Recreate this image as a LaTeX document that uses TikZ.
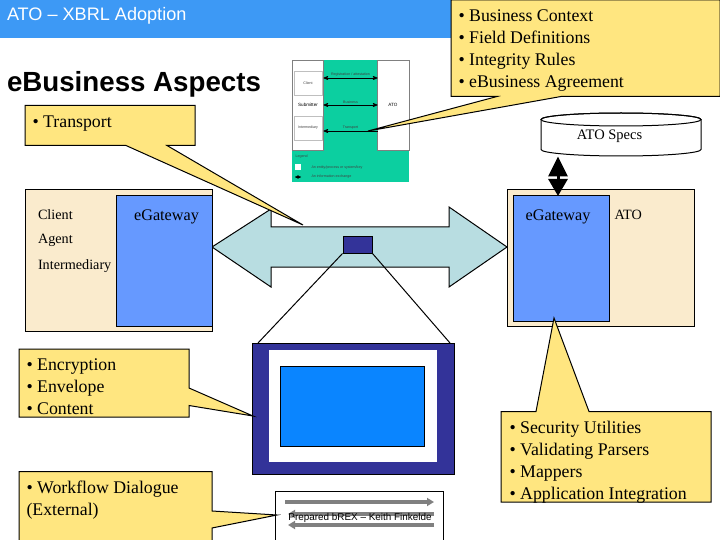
\documentclass[tikz,border=0pt]{standalone}
\usepackage{fontspec}
\setmainfont{Liberation Serif}
\newfontfamily\arialfont{Liberation Sans}
\usetikzlibrary{arrows,arrows.meta,positioning}

\definecolor{barblue}{HTML}{3D99F5}
\definecolor{noteyellow}{HTML}{FFE680}
\definecolor{sidetan}{HTML}{FAEBCD}
\definecolor{gateblue}{HTML}{6699FF}
\definecolor{pipeblue}{HTML}{B8DDE1}
\definecolor{darkblue}{HTML}{333399}
\definecolor{screenblue}{HTML}{0A85FF}
\definecolor{tealgreen}{HTML}{0CCFA0}

\begin{document}
\begin{tikzpicture}[x=1pt,y=-1pt,>=stealth',line width=1pt,inner sep=0pt]
  \tikzstyle{note}=[draw=black,fill=noteyellow,line join=miter]
  \tikzstyle{notetext}=[anchor=north west,align=left,font=\fontsize{17.8}{22}\selectfont]
  \tikzstyle{plain}=[font=\fontsize{14.2}{16}\selectfont]
  \tikzstyle{gatetext}=[font=\fontsize{16.2}{18}\selectfont]
  \tikzstyle{gate}=[draw=black,fill=gateblue]
  \tikzstyle{side}=[draw=black,fill=sidetan]
  \tikzstyle{tiny}=[font=\arialfont\fontsize{3.6}{4}\selectfont,text=black!75]
  \tikzstyle{flow}=[->,line width=0.7pt,>=stealth',black]
  \tikzstyle{grayflow}=[-{Triangle[length=7pt,width=8pt]},line width=3.2pt,black!50]

  \useasboundingbox (0,0) rectangle (720,540);

  % header
  \fill[barblue] (0,0) rectangle (452,38);
  \node[anchor=west,text=white,font=\arialfont\fontsize{18.1}{20}\selectfont] (bar) at (6.5,15.5) {ATO – XBRL Adoption};
  \node[anchor=west,font=\arialfont\bfseries\fontsize{27.7}{30}\selectfont] (title) at (6.5,84) {eBusiness Aspects};

  % embedded picture
  \fill[tealgreen] (292,60) rectangle (409,182);
  \draw[white,fill=white,line width=0.2pt] (292,60) rectangle (323.5,150);
  \draw[white,fill=white,line width=0.2pt] (377.5,60) rectangle (409,150);
  \draw[black!50,line width=0.4pt] (292,60) rectangle (323.5,150) (377.5,60) rectangle (409,150);
  \node[draw=black!25,line width=0.5pt,minimum width=28pt,minimum height=24pt,tiny] (client) at (308,83) {Client};
  \node[draw=black!25,line width=0.5pt,minimum width=28pt,minimum height=24pt,tiny] (inter) at (308,128) {Intermediary};
  \node[font=\arialfont\fontsize{4.6}{5}\selectfont] (submit) at (308,105) {Submitter};
  \node[font=\arialfont\fontsize{4.6}{5}\selectfont] (ato) at (393,105) {ATO};
  \draw[flow,<->] (323.5,78) -- node[above=1pt,tiny] {Registration / attestation} (377.5,78);
  \draw[flow,<->] (323.5,105) -- node[above=1pt,tiny] {Business} (377.5,105);
  \draw[flow,<-] (323.5,131) -- node[above=1pt,tiny] {Transport} (377.5,131);
  \node[tiny,anchor=west] (legend) at (295,157) {Legend};
  \node[fill=white,minimum width=6pt,minimum height=6pt] (key) at (298,167) {};
  \node[tiny,anchor=west] (keytext) at (311,168) {An entity/process or system/key};
  \node[tiny,anchor=west] (linktext) at (311,177) {An information exchange};
  \draw[flow,<->,line width=0.4pt] (295,177) -- (301,177);

  % top note
  \draw[note] (451,0) -- (720,0) -- (720,96.5) -- (561,96.5) -- (368,131) -- (497,96.5) -- (451,96.5) -- cycle;
  \node[notetext] (context) at (458,9) {• Business Context\\• Field Definitions\\• Integrity Rules\\• eBusiness Agreement};

  % pipe between the two gateways
  \draw[fill=pipeblue,line join=miter] (212,247) -- (271,209) -- (271,227) -- (449,227) -- (449,207) -- (507,247) -- (449,287) -- (449,267) -- (271,267) -- (271,287) -- cycle;

  % transport note
  \draw[note] (25,105.5) -- (195,105.5) -- (195,145.5) -- (167,145.5) -- (303,225) -- (126,145.5) -- (25,145.5) -- cycle;
  \node[notetext] (transport) at (32,115.5) {• Transport};

  % client side
  \node[side,minimum width=187pt,minimum height=141pt] (clientbox) at (118.5,260.5) {};
  \node[gate,minimum width=96pt,minimum height=130pt] (clientgate) at (164.5,261) {};
  \node[plain,anchor=west] (cl) at (37.5,214.5) {Client};
  \node[plain,anchor=west] (ag) at (37.5,240.5) {Agent};
  \node[plain,anchor=west] (im) at (37.5,266.5) {Intermediary};
  \node[gatetext] (clientlabel) at (166.5,217) {eGateway};

  % ATO side
  \node[side,minimum width=187pt,minimum height=136pt] (atobox) at (600.5,258) {};
  \node[gate,minimum width=96pt,minimum height=125pt] (atogate) at (561,258.5) {};
  \node[gatetext] (atolabel) at (558,217) {eGateway};
  \node[plain,anchor=west] (atoname) at (614,214.5) {ATO};

  % specs store
  \draw[fill=white] (541,119.5) arc[start angle=180,end angle=0,x radius=80pt,y radius=6.5pt] -- (701,149.5) arc[start angle=0,end angle=-180,x radius=80pt,y radius=6.5pt] -- cycle;
  \draw (621,119.5) ellipse[x radius=80pt,y radius=6.5pt];
  \node[font=\fontsize{14.5}{16}\selectfont] (specs) at (609.5,136.5) {ATO Specs};
  \coordinate (specsfoot) at (558,156.5);
  \coordinate (gatetop) at (558,196);
  \draw[{Triangle[length=20pt,width=19pt]}-{Triangle[length=17pt,width=19pt]},line width=3pt] (specsfoot) -- (gatetop);

  % zoom of the message
  \node[fill=darkblue,draw=black,minimum width=29pt,minimum height=17pt] (packet) at (357.5,244.5) {};
  \coordinate (zoomleft) at (258,343);
  \coordinate (zoomright) at (450,343);
  \draw (packet.south west) -- (zoomleft);
  \draw (packet.south east) -- (zoomright);
  \node[fill=darkblue,draw=black,minimum width=202pt,minimum height=131pt] (screen) at (353,408.5) {};
  \node[fill=white,minimum width=168pt,minimum height=112pt] (paper) at (353,406) {};
  \node[fill=screenblue,draw=black,line width=0.6pt,minimum width=144pt,minimum height=80pt] (content) at (352,406) {};

  % encryption note
  \draw[note] (19,349) -- (189,349) -- (189,388) -- (253,416) -- (189,405.5) -- (189,417) -- (19,417) -- cycle;
  \node[notetext] (encrypt) at (26,358) {• Encryption\\• Envelope\\• Content};

  % prepared box
  \draw[draw=black,fill=white] (275,540) -- (275,491) -- (443,491) -- (443,540);
  \coordinate (la) at (285,502); \coordinate (ra) at (434,502);
  \coordinate (lb) at (288,514); \coordinate (rb) at (434,514);
  \coordinate (lc) at (288,525); \coordinate (rc) at (434,525);
  \draw[grayflow] (la) -- (ra);
  \draw[grayflow] (rb) -- (lb);
  \draw[grayflow] (rc) -- (lc);
  \node[font=\arialfont\fontsize{9.9}{11}\selectfont] (prepared) at (360,517.5) {Prepared bREX – Keith Finkelde};

  % workflow note
  \draw[note] (212,540) -- (212,528) -- (277,515) -- (212,511) -- (212,471.5) -- (19,471.5) -- (19,540);
  \node[notetext] (workflow) at (26,480.5) {• Workflow Dialogue\\(External)};

  % security note
  \draw[note] (501,411.5) -- (536,411.5) -- (554,318) -- (589,411.5) -- (711,411.5) -- (711,502) -- (501,502) -- cycle;
  \node[notetext] (security) at (509,421) {• Security Utilities\\• Validating Parsers\\• Mappers\\• Application Integration};
\end{tikzpicture}
\end{document}
